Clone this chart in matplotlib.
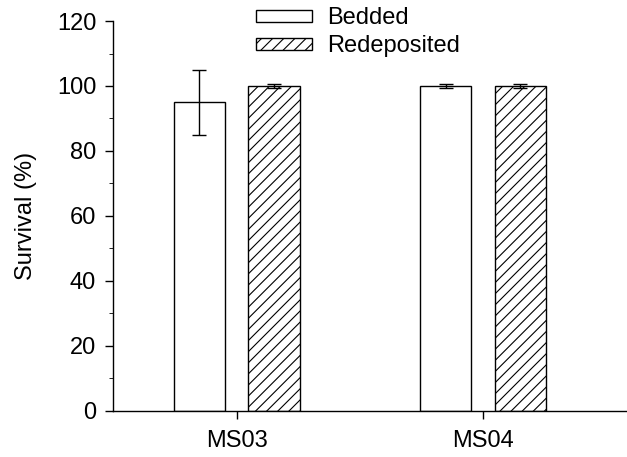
import matplotlib.pyplot as plt
import numpy as np

plt.rcParams["font.family"] = ["Liberation Sans", "DejaVu Sans"]
plt.rcParams["hatch.linewidth"] = 0.8

sites = ["MS03", "MS04"]
bedded = [95, 100]
bedded_err = [10, 0.5]
redeposited = [100, 100]
redeposited_err = [0.5, 0.5]

x = np.arange(len(sites))
w = 0.21
off = 0.152

fig = plt.figure(figsize=(6.27, 4.57), dpi=100)
ax = fig.add_axes([0.180, 0.101, 0.822, 0.853])

ax.bar(x - off, bedded, w, color="white", edgecolor="black", linewidth=1.0,
       yerr=bedded_err, capsize=5, error_kw=dict(elinewidth=1.0, capthick=1.0),
       label="Bedded")
ax.bar(x + off, redeposited, w, color="white", edgecolor="black", linewidth=1.0,
       hatch="///", yerr=redeposited_err, capsize=5,
       error_kw=dict(elinewidth=1.0, capthick=1.0), label="Redeposited")

ax.set_xlim(-0.504, 1.59)
ax.set_ylim(0, 120)
ax.set_yticks(np.arange(0, 121, 20))
ax.set_yticks(np.arange(10, 120, 20), minor=True)
ax.set_xticks(x)
ax.set_xticklabels(sites)
ax.tick_params(axis="both", direction="out", labelsize=17, width=1.0)
ax.tick_params(axis="y", which="major", length=6, pad=6)
ax.tick_params(axis="y", which="minor", length=3)
ax.tick_params(axis="x", length=6, pad=8)
ax.set_ylabel("Survival (%)", fontsize=17, labelpad=14)

for s in ["top", "right"]:
    ax.spines[s].set_visible(False)
for s in ["left", "bottom"]:
    ax.spines[s].set_linewidth(1.0)

ax.legend(loc="upper left", bbox_to_anchor=(0.26, 1.06), frameon=False,
          fontsize=17, handlelength=2.37, handleheight=0.42, handletextpad=0.64,
          labelspacing=0.27, borderaxespad=0)

fig.savefig("out.png", dpi=100)
